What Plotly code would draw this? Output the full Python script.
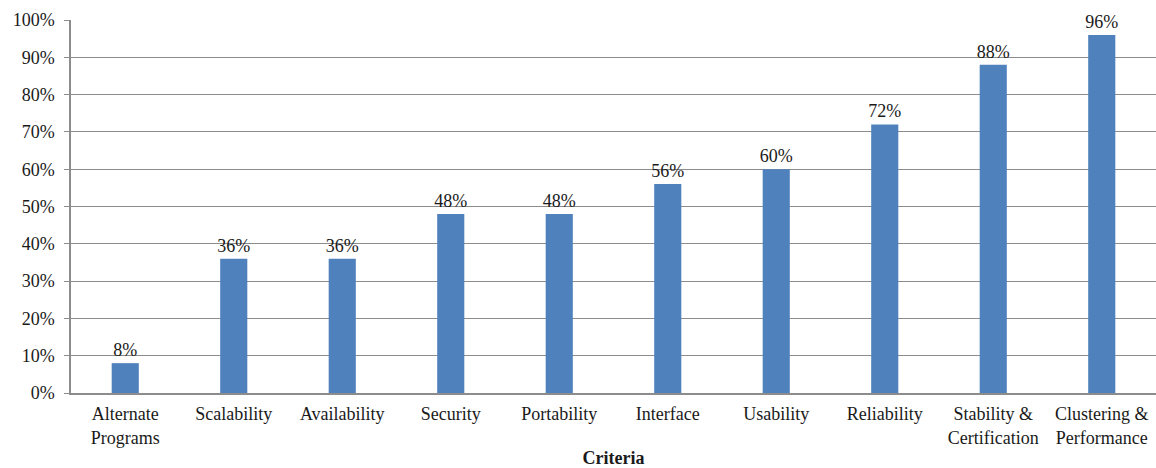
import plotly.graph_objects as go

categories = ["Alternate<br>Programs", "Scalability", "Availability", "Security", "Portability",
              "Interface", "Usability", "Reliability", "Stability &<br>Certification",
              "Clustering &<br>Performance"]
values = [8, 36, 36, 48, 48, 56, 60, 72, 88, 96]
value_labels = [f"{v}%" for v in values]
y_tick_vals = [0, 10, 20, 30, 40, 50, 60, 70, 80, 90, 100]
y_tick_text = [f"{v}%" for v in y_tick_vals]

FONT = "Liberation Serif"
FS = 18

fig = go.Figure(go.Bar(
    x=categories, y=values, text=value_labels, textposition="outside",
    textfont=dict(family=FONT, size=FS, color="#1a1a1a"),
    constraintext="none",
    marker=dict(color="#4f81bd", line=dict(width=0)),
    cliponaxis=False,
))

fig.update_layout(
    width=1156, height=468,
    margin=dict(l=71, r=0, t=20, b=75),
    paper_bgcolor="white", plot_bgcolor="white",
    bargap=0.75,
    showlegend=False,
    font=dict(family=FONT, size=FS, color="#1a1a1a"),
    xaxis=dict(
        automargin=False,
        showline=True, linecolor="#8c8c8c", linewidth=1.5,
        ticks="", ticklabelstandoff=4,
        tickfont=dict(family=FONT, size=FS, color="#1a1a1a"),
        title=dict(text="<b>Criteria</b>", font=dict(family=FONT, size=FS, color="#1a1a1a"), standoff=10),
    ),
    yaxis=dict(
        automargin=False,
        range=[0, 100], tickvals=y_tick_vals, ticktext=y_tick_text,
        showgrid=True, gridcolor="#8c8c8c", gridwidth=1,
        showline=True, linecolor="#8c8c8c", linewidth=1.5,
        ticks="outside", ticklen=5, tickcolor="#8c8c8c",
        ticklabelstandoff=6,
        tickfont=dict(family=FONT, size=FS, color="#1a1a1a"),
        zeroline=False,
    ),
)

fig.write_html("out.html", config={"displayModeBar": False},
               post_script="document.body.style.margin='0';")
